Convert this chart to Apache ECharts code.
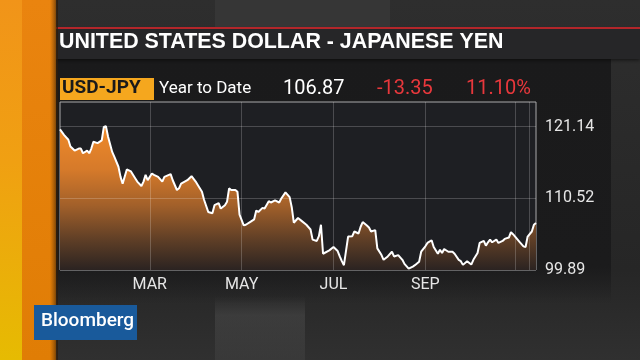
<!DOCTYPE html>
<html><head><meta charset="utf-8">
<script src="https://cdn.jsdelivr.net/npm/echarts@6/dist/echarts.min.js"></script>
<style>html,body{margin:0;padding:0;background:#2a2a2a}#c{width:640px;height:360px}</style>
</head><body><div id="c"></div>
<script>
// ---- data ----
const firstDay = '2015-12-31';
const lastDay = '2016-11-15';
const dates = ['2015-12-31','2016-01-04','2016-01-06','2016-01-07','2016-01-11','2016-01-13','2016-01-14','2016-01-15','2016-01-19','2016-01-20','2016-01-21','2016-01-22','2016-01-26','2016-01-28','2016-01-29','2016-02-01','2016-02-02','2016-02-04','2016-02-05','2016-02-09','2016-02-10','2016-02-11','2016-02-15','2016-02-17','2016-02-19','2016-02-22','2016-02-24','2016-02-25','2016-02-26','2016-02-29','2016-03-02','2016-03-03','2016-03-07','2016-03-09','2016-03-10','2016-03-15','2016-03-16','2016-03-18','2016-03-21','2016-03-22','2016-03-25','2016-03-29','2016-03-31','2016-04-01','2016-04-05','2016-04-06','2016-04-08','2016-04-12','2016-04-13','2016-04-15','2016-04-18','2016-04-20','2016-04-21','2016-04-22','2016-04-25','2016-04-27','2016-04-28','2016-04-29','2016-05-03','2016-05-04','2016-05-06','2016-05-10','2016-05-11','2016-05-12','2016-05-16','2016-05-17','2016-05-19','2016-05-20','2016-05-24','2016-05-26','2016-05-27','2016-05-31','2016-06-02','2016-06-03','2016-06-06','2016-06-08','2016-06-10','2016-06-14','2016-06-16','2016-06-17','2016-06-21','2016-06-22','2016-06-23','2016-06-24','2016-06-29','2016-07-01','2016-07-05','2016-07-06','2016-07-07','2016-07-08','2016-07-12','2016-07-14','2016-07-15','2016-07-19','2016-07-20','2016-07-21','2016-07-25','2016-07-26','2016-07-27','2016-07-29','2016-08-01','2016-08-03','2016-08-04','2016-08-08','2016-08-10','2016-08-11','2016-08-15','2016-08-17','2016-08-18','2016-08-22','2016-08-24','2016-08-25','2016-08-29','2016-08-30','2016-09-01','2016-09-02','2016-09-06','2016-09-07','2016-09-09','2016-09-12','2016-09-13','2016-09-14','2016-09-16','2016-09-20','2016-09-21','2016-09-23','2016-09-26','2016-09-27','2016-09-29','2016-10-03','2016-10-04','2016-10-06','2016-10-07','2016-10-11','2016-10-12','2016-10-13','2016-10-14','2016-10-17','2016-10-19','2016-10-20','2016-10-24','2016-10-25','2016-10-27','2016-10-28','2016-10-31','2016-11-01','2016-11-03','2016-11-07','2016-11-08','2016-11-09','2016-11-11','2016-11-14','2016-11-15'];
const usdJpy = [120.75,119.9,119.2,118.2,117.6,117.9,117.9,117.2,117.6,117.2,117.9,118.9,118.7,119.1,121.1,121.2,119.7,117.4,116.7,115.2,113.7,112.7,114.8,114.5,113.5,113.0,112.35,113.0,114.0,113.2,114.2,114.0,113.7,113.0,113.7,114.1,113.2,111.75,112.0,112.7,113.2,113.8,113.0,112.5,111.5,110.3,108.5,108.3,109.5,109.8,109.0,109.5,110.0,112.0,111.75,111.75,111.5,108.1,106.5,106.6,107.0,107.4,108.7,108.5,109.1,109.0,110.1,109.9,110.2,109.9,110.5,111.4,110.7,109.2,106.9,107.6,107.1,106.6,105.9,104.4,104.2,104.9,106.6,102.3,102.8,103.3,102.7,101.9,101.2,100.6,104.85,104.9,105.6,105.3,106.3,107.0,106.5,106.2,105.6,105.8,103.1,102.1,101.4,101.9,102.6,101.9,102.1,101.4,100.8,100.1,100.4,100.6,101.1,102.6,103.4,103.9,104.3,103.3,102.3,102.9,102.4,103.0,102.6,102.6,102.3,101.4,101.2,100.65,101.2,100.7,101.4,102.4,103.9,104.2,103.5,104.0,104.4,104.0,104.4,103.9,104.2,104.5,104.7,105.5,105.2,104.85,104.1,103.4,103.3,104.85,105.6,106.6,106.87];
const yTicks = [99.89, 110.52, 121.14];
const yMin = 99.89, yMax = 124.8;
const monthLabelDates = ['2016-03-01','2016-05-02','2016-07-01','2016-09-01'];
const gridLineDates = ['2016-03-01','2016-05-02','2016-07-01','2016-09-01','2016-11-01','2016-11-10'];
const monthNames = ['JAN','FEB','MAR','APR','MAY','JUN','JUL','AUG','SEP','OCT','NOV','DEC'];
const titleText = 'UNITED STATES DOLLAR - JAPANESE YEN';
const tickerText = 'USD-JPY';
const periodText = 'Year to Date';
const lastText = '106.87', changeText = '-13.35', pctText = '11.10%';

// trading-day (weekday) categories
function weekdays(a, b) {
  const out = []; let d = new Date(a + 'T00:00:00Z'); const e = new Date(b + 'T00:00:00Z');
  while (d <= e) { const w = d.getUTCDay(); if (w !== 0 && w !== 6) out.push(d.toISOString().slice(0, 10)); d = new Date(d.getTime() + 86400000); }
  return out;
}
const categories = weekdays(firstDay, lastDay);
const seriesData = dates.map((d, i) => [d, usdJpy[i]]);

const FONT = 'Roboto, "Liberation Sans", sans-serif';
const TFONT = '"Liberation Sans", Arial, sans-serif';
const GRIDC = 'rgba(255,255,255,0.2)';
const chart = echarts.init(document.getElementById('c'), null, {renderer: 'canvas'});
const markData = gridLineDates.map(d => ({xAxis: d}))
  .concat(yTicks.slice(1).map(v => ({yAxis: v})));

chart.setOption({
  animation: false,
  backgroundColor: '#2a2a2a',
  graphic: [
    // backdrop
    {type: 'rect', z: -10, shape: {x: 0, y: 0, width: 640, height: 360}, style: {fill: new echarts.graphic.LinearGradient(0, 0, 0, 1, [{offset: 0, color: '#2e2e2e'}, {offset: 0.75, color: '#262626'}, {offset: 1, color: '#303030'}])}},
    {type: 'rect', z: -9, shape: {x: 215, y: 0, width: 175, height: 27}, style: {fill: '#363636'}},
    {type: 'rect', z: -9, shape: {x: 215, y: 296, width: 90, height: 64}, style: {fill: new echarts.graphic.LinearGradient(0, 0, 0, 1, [{offset: 0, color: 'rgba(80,80,80,0)'}, {offset: 0.3, color: 'rgba(80,80,80,0.45)'}, {offset: 1, color: 'rgba(70,70,70,0.4)'}])}},
    // dark panel
    {type: 'rect', z: -8, shape: {x: 56, y: 58, width: 555, height: 245}, style: {fill: new echarts.graphic.LinearGradient(0, 0, 0, 1, [{offset: 0, color: '#1a1a1b'}, {offset: 0.85, color: '#1b1b1c'}, {offset: 1, color: 'rgba(27,27,28,0)'}])}},
    // title bar
    {type: 'rect', z: -7, shape: {x: 54, y: 29, width: 586, height: 30}, style: {fill: '#262628', shadowBlur: 4, shadowColor: 'rgba(0,0,0,0.6)', shadowOffsetY: 1}},
    {type: 'rect', z: -6, shape: {x: 54, y: 27, width: 586, height: 2}, style: {fill: '#b3262a'}},
    // left strips
    {type: 'rect', z: -5, shape: {x: 0, y: 0, width: 22, height: 360}, style: {fill: new echarts.graphic.LinearGradient(0, 0, 0, 1, [{offset: 0, color: '#f19419'}, {offset: 0.45, color: '#f0a012'}, {offset: 1, color: '#e6bb02'}])}},
    {type: 'rect', z: -5, shape: {x: 22, y: 0, width: 34, height: 360}, style: {fill: new echarts.graphic.LinearGradient(0, 0, 0, 1, [{offset: 0, color: '#ea840f'}, {offset: 1, color: '#e07d05'}])}},
    {type: 'rect', z: -5, shape: {x: 50, y: 0, width: 8, height: 360}, style: {fill: new echarts.graphic.LinearGradient(0, 0, 1, 0, [{offset: 0, color: 'rgba(120,60,0,0)'}, {offset: 1, color: 'rgba(40,25,10,0.8)'}])}},
    // title
    {type: 'text', z: 10, left: 59, top: 32, style: {text: titleText, fill: '#ffffff', font: 'bold 21.4px ' + TFONT}},
    // header row
    {type: 'rect', z: 10, shape: {x: 60, y: 78, width: 94, height: 22}, style: {fill: '#f5a71e'}},
    {type: 'text', z: 11, left: 62, top: 79, style: {text: tickerText, fill: '#1a1a1a', font: 'bold 19px ' + FONT}},
    {type: 'text', z: 11, left: 159, top: 80, style: {text: periodText, fill: '#ffffff', font: '17px ' + FONT}},
    {type: 'text', z: 11, left: 283, top: 79, style: {text: lastText, fill: '#ffffff', font: '20px ' + FONT}},
    {type: 'text', z: 11, left: 377, top: 79, style: {text: changeText, fill: '#e8383c', font: '20px ' + FONT}},
    {type: 'text', z: 11, left: 466, top: 79, style: {text: pctText, fill: '#e8383c', font: '20px ' + FONT}},
    // logo
    {type: 'rect', z: 11, shape: {x: 34, y: 305, width: 103, height: 35}, style: {fill: '#195a9b'}},
    {type: 'text', z: 12, left: 41, top: 312, style: {text: 'Bloomberg', fill: '#ffffff', font: '500 19px ' + FONT}}
  ],
  grid: {left: 60, right: 104, top: 102, bottom: 90, show: true, backgroundColor: '#1e1f23', borderColor: '#a9a9ab', borderWidth: 1},
  xAxis: {
    type: 'category', data: categories, boundaryGap: false,
    axisLine: {show: false}, axisTick: {show: false}, splitLine: {show: false},
    axisLabel: {
      interval: (i, v) => monthLabelDates.includes(v),
      formatter: v => monthNames[+v.slice(5, 7) - 1],
      color: '#e6e6e6', fontSize: 16, fontFamily: FONT, margin: 7
    }
  },
  yAxis: {
    type: 'value', position: 'right', min: yMin, max: yMax, scale: true,
    axisLine: {show: false}, axisTick: {show: false}, splitLine: {show: false},
    axisLabel: {customValues: yTicks, formatter: v => v.toFixed(2), color: '#e6e6e6', fontSize: 16, fontFamily: FONT, margin: 9, padding: [0, 0, 9, 0]}
  },
  series: [{
    type: 'line', data: seriesData, symbol: 'none', smooth: false,
    lineStyle: {color: '#ffffff', width: 2},
    areaStyle: {opacity: 1, color: new echarts.graphic.LinearGradient(0, 0, 0, 1, [
      {offset: 0, color: '#ef8a2a'}, {offset: 0.3, color: '#d67a2a'}, {offset: 0.55, color: '#a2602a'}, {offset: 0.8, color: '#5c3d26'}, {offset: 1, color: '#2b2321'}])},
    markLine: {silent: true, symbol: 'none', label: {show: false}, lineStyle: {color: GRIDC, width: 1, type: 'solid'}, data: markData}
  }]
});
</script></body></html>
